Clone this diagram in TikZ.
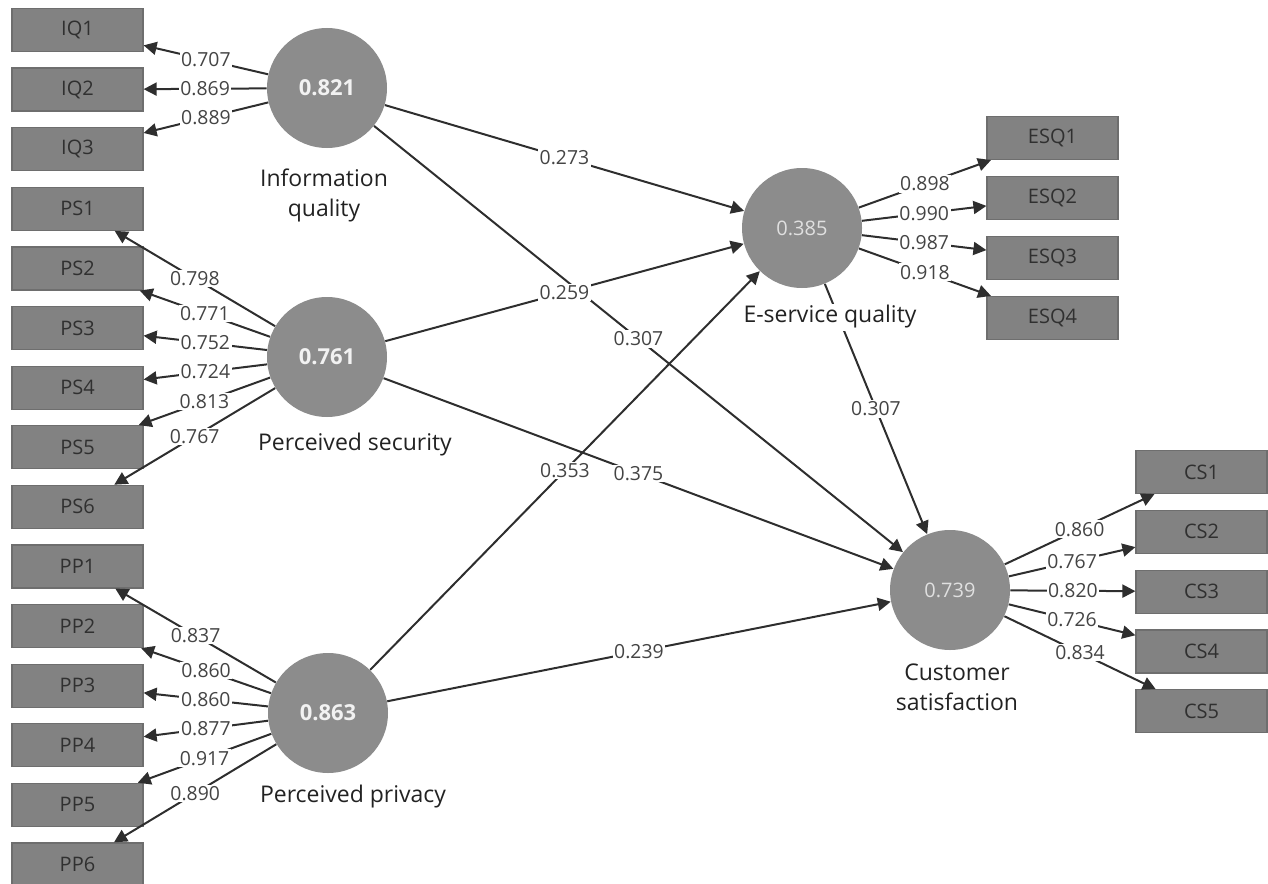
\documentclass[tikz,border=0pt]{standalone}
\usepackage{fontspec}
\setmainfont{Open Sans}
\usetikzlibrary{arrows.meta}
\definecolor{boxfill}{HTML}{828282}
\definecolor{boxline}{HTML}{6E6E6E}
\definecolor{boxtext}{HTML}{303030}
\definecolor{circfill}{HTML}{8C8C8C}
\definecolor{linecol}{HTML}{2E2E2E}
\definecolor{numcol}{HTML}{444444}
\definecolor{capcol}{HTML}{222222}
\begin{document}
\begin{tikzpicture}[x=0.5pt,y=-0.5pt,
  ind/.style={rectangle, draw=boxline, line width=0.6pt, fill=boxfill, minimum width=65.5pt, minimum height=21.5pt, inner sep=0pt, font=\fontsize{10}{12}\selectfont, text=boxtext},
  lv/.style={circle, fill=circfill, minimum size=60pt, inner sep=0pt},
  arr/.style={draw=linecol, line width=1pt, -{Triangle[length=6.5pt,width=6.5pt]}},
  num/.style={fill=white, inner sep=0.8pt, text=numcol, font=\fontsize{9.7}{11}\selectfont},
  lvcap/.style={text=capcol, font=\fontsize{11.5}{15}\selectfont, align=center}]
\useasboundingbox (0,0) rectangle (1268,883);
% latent variables
\node[lv, text=white!95!black, font=\fontsize{11}{13}\selectfont\bfseries] (iq) at (327,88) {0.821};
\node[lv, text=white!95!black, font=\fontsize{11}{13}\selectfont\bfseries] (ps) at (327,357) {0.761};
\node[lv, text=white!95!black, font=\fontsize{11}{13}\selectfont\bfseries] (pp) at (328,713) {0.863};
\node[lv, text=white!88!black, font=\fontsize{10}{12}\selectfont] (esq) at (802,228) {0.385};
\node[lv, text=white!88!black, font=\fontsize{10}{12}\selectfont] (cs) at (950,590) {0.739};
% indicators
\foreach \n/\k in {IQ1/0,IQ2/1,IQ3/2,PS1/3,PS2/4,PS3/5,PS4/6,PS5/7,PS6/8,PP1/9,PP2/10,PP3/11,PP4/12,PP5/13,PP6/14}
  \node[ind] (\n) at (77.5,{30+59.6*\k}) {\n};
\foreach \n/\k in {ESQ1/0,ESQ2/1,ESQ3/2,ESQ4/3}
  \node[ind] (\n) at (1052.5,{138+60*\k}) {\n};
\foreach \n/\k in {CS1/0,CS2/1,CS3/2,CS4/3,CS5/4}
  \node[ind] (\n) at (1201.5,{472+59.8*\k}) {\n};
% outer loadings
\foreach \s/\t in {iq/IQ1,iq/IQ2,iq/IQ3,ps/PS1,ps/PS2,ps/PS3,ps/PS4,ps/PS5,ps/PS6,pp/PP1,pp/PP2,pp/PP3,pp/PP4,pp/PP5,pp/PP6,esq/ESQ1,esq/ESQ2,esq/ESQ3,esq/ESQ4,cs/CS1,cs/CS2,cs/CS3,cs/CS4,cs/CS5}
  \draw[arr] (\s) -- (\t) coordinate[midway] (m\t);
% structural paths
\draw[arr] (iq) -- (esq) coordinate[midway] (m1);
\draw[arr] (iq) -- (cs) coordinate[midway] (m2);
\draw[arr] (ps) -- (esq) coordinate[midway] (m3);
\draw[arr] (ps) -- (cs) coordinate[midway] (m4);
\draw[arr] (pp) -- (esq) coordinate[midway] (m5);
\draw[arr] (pp) -- (cs) coordinate[midway] (m6);
\draw[arr] (esq) -- (cs) coordinate[midway] (m7);
% captions
\node[lvcap] (ciq) at (324,195) {Information\\quality};
\node[lvcap] (cps) at (355,445) {Perceived security};
\node[lvcap] (cpp) at (353,797) {Perceived privacy};
\node[lvcap, fill=white, inner sep=1pt] (cesq) at (830,317) {E-service quality};
\node[lvcap] (ccs) at (957,687) {Customer\\satisfaction};
% labels
\foreach \t/\v in {IQ1/0.707,IQ2/0.869,IQ3/0.889,PS1/0.798,PS2/0.771,PS3/0.752,PS4/0.724,PS5/0.813,PS6/0.767,PP1/0.837,PP2/0.860,PP3/0.860,PP4/0.877,PP5/0.917,PP6/0.890,ESQ1/0.898,ESQ2/0.990,ESQ3/0.987,ESQ4/0.918,CS1/0.860,CS2/0.767,CS3/0.820,CS4/0.726,CS5/0.834}
  \node[num] (l\t) at (m\t) {\v};
\foreach \i/\v in {1/0.273,2/0.307,3/0.259,4/0.375,5/0.353,6/0.239,7/0.307}
  \node[num] (ls\i) at (m\i) {\v};
\end{tikzpicture}
\end{document}
